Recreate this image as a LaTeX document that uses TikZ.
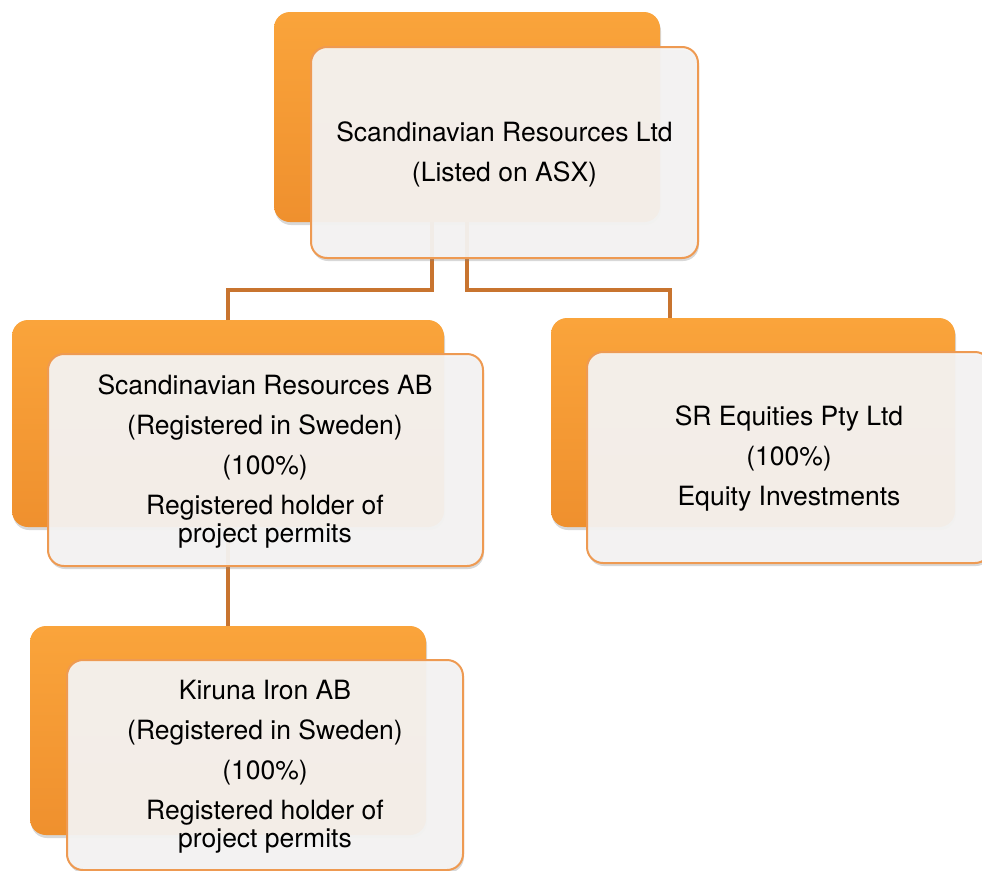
\documentclass[tikz,border=0pt]{standalone}
\usepackage{fontspec}
\setmainfont{TeX Gyre Heros}
\usetikzlibrary{shadows,calc}
\definecolor{orgtop}{HTML}{FAA43B}
\definecolor{orgbot}{HTML}{EF902E}
\definecolor{frontfill}{HTML}{F6F5F4}
\definecolor{frontline}{HTML}{EE9A52}
\definecolor{connc}{HTML}{C8742F}
\tikzset{
  backbox/.style={rounded corners=16pt, top color=orgtop, bottom color=orgbot, draw=none,
    drop shadow={opacity=0.3, shadow xshift=1pt, shadow yshift=-3pt}},
  frontbox/.style={rounded corners=16pt, fill=frontfill, fill opacity=0.93, draw=frontline, line width=2pt,
    drop shadow={opacity=0.3, shadow xshift=1pt, shadow yshift=-3pt}},
  label/.style={align=center, text=black, font=\fontsize{26.5}{40}\selectfont},
  conn/.style={draw=connc, line width=3.5pt},
}
\begin{document}
\begin{tikzpicture}[x=1pt,y=-1pt]
\useasboundingbox (0,0) rectangle (982,870);
\clip (0,0) rectangle (982,870);
\fill[white] (0,0) rectangle (982,870);
% back boxes
\node[backbox, minimum width=386pt, minimum height=210pt] (backA) at (467,117) {};
\node[backbox, minimum width=432pt, minimum height=207pt] (backB) at (228,423.5) {};
\node[backbox, minimum width=404pt, minimum height=209pt] (backC) at (753,422.5) {};
\node[backbox, minimum width=396pt, minimum height=209pt] (backD) at (228,730.5) {};
% connectors
\draw[conn] ([xshift=-35pt]backA.south) -- ++(0pt,-68pt) -| (backB.north);
\draw[conn] (backA.south) -- ++(0pt,-68pt) -| ([xshift=-83pt]backC.north);
\draw[conn] (backB.south) -- (backD.north);
% front boxes
\node[frontbox, minimum width=387pt, minimum height=211pt] (frontA) at (504.5,152.5) {};
\node[frontbox, minimum width=435pt, minimum height=212pt] (frontB) at (265.5,460) {};
\node[frontbox, minimum width=404pt, minimum height=211pt] (frontC) at (789,457.5) {};
\node[frontbox, minimum width=396pt, minimum height=210pt] (frontD) at (265,765) {};
% texts
\node[label] (textA) at ([yshift=-2pt]frontA.center) {Scandinavian Resources Ltd\\(Listed on ASX)};
\node[label] (textB) at (265,461) {Scandinavian Resources AB\\(Registered in Sweden)\\(100\%)\\Registered holder of\\[-12pt]project permits};
\node[label] (textC) at (789,458) {SR Equities Pty Ltd\\(100\%)\\Equity Investments};
\node[label] (textD) at (265,767) {Kiruna Iron AB\\(Registered in Sweden)\\(100\%)\\Registered holder of\\[-12pt]project permits};
\end{tikzpicture}
\end{document}
